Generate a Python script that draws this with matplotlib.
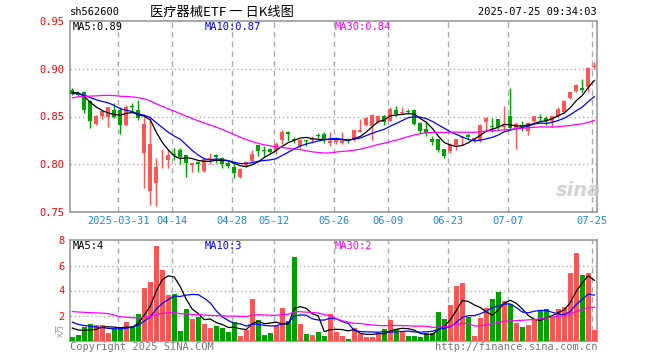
import matplotlib
matplotlib.use("Agg")
import matplotlib.pyplot as plt
import numpy as np
import pandas as pd

# daily bars, 2025-03-19 .. 2025-07-25 (88 sessions)
opens = [0.878, 0.875, 0.876, 0.8667, 0.842, 0.851, 0.8493, 0.8563,
         0.8563, 0.841, 0.861, 0.857, 0.812, 0.7722, 0.7806, 0.805, 0.8042, 0.8105,
         0.8153, 0.8094, 0.7997, 0.8024, 0.7927, 0.8056, 0.810, 0.807, 0.8014, 0.7972,
         0.7868, 0.7972, 0.8035, 0.8198, 0.8146, 0.816, 0.8153, 0.825, 0.8337, 0.8264,
         0.8187, 0.825, 0.825, 0.8303, 0.8313, 0.8222, 0.8236, 0.8222, 0.8257, 0.8257,
         0.8333, 0.8406, 0.8396, 0.8441, 0.851, 0.8458, 0.8563, 0.8538, 0.8556, 0.8563,
         0.8434, 0.8365, 0.8264, 0.826, 0.8156, 0.8135, 0.8198, 0.828, 0.8302, 0.825,
         0.825, 0.8441, 0.8399, 0.8469, 0.8389, 0.851, 0.8378, 0.8413, 0.8344, 0.8448,
         0.8493, 0.8483, 0.8458, 0.851, 0.8552, 0.8691, 0.8767, 0.8795, 0.8805, 0.902]
highs = [0.880, 0.877, 0.877, 0.867, 0.852, 0.857, 0.860, 0.864,
         0.860, 0.862, 0.864, 0.867, 0.851, 0.851, 0.807, 0.816, 0.8153, 0.8174,
         0.817, 0.810, 0.8017, 0.8035, 0.806, 0.8122, 0.811, 0.8076, 0.8035, 0.800,
         0.7965, 0.803, 0.8153, 0.820, 0.8188, 0.8167, 0.8233, 0.8354, 0.8347, 0.8285,
         0.8264, 0.8257, 0.8292, 0.8326, 0.8337, 0.834, 0.827, 0.834, 0.828, 0.836,
         0.8472, 0.850, 0.8528, 0.851, 0.8517, 0.8604, 0.8615, 0.8604, 0.858, 0.858,
         0.8441, 0.8451, 0.8292, 0.8264, 0.8163, 0.8226, 0.8265, 0.8295, 0.8325, 0.828,
         0.8417, 0.8493, 0.8483, 0.8472, 0.8608, 0.8802, 0.8445, 0.8448, 0.8441, 0.8507,
         0.8528, 0.8504, 0.851, 0.8597, 0.8674, 0.876, 0.8837, 0.8892, 0.9015, 0.907]
lows = [0.872, 0.871, 0.8535, 0.838, 0.841, 0.8476, 0.839, 0.848,
        0.832, 0.840, 0.8556, 0.8465, 0.775, 0.7573, 0.7566, 0.796, 0.7965, 0.8049,
        0.800, 0.7868, 0.792, 0.792, 0.792, 0.8007, 0.8017, 0.7965, 0.7965, 0.7858,
        0.7858, 0.797, 0.8024, 0.8083, 0.8076, 0.8104, 0.8104, 0.8208, 0.824, 0.8222,
        0.8174, 0.8195, 0.8222, 0.8278, 0.8222, 0.8188, 0.8208, 0.8215, 0.8222, 0.824,
        0.8333, 0.8396, 0.8257, 0.843, 0.8406, 0.845, 0.851, 0.8528, 0.8528, 0.8413,
        0.8326, 0.8299, 0.8198, 0.8128, 0.8066, 0.8118, 0.8153, 0.8198, 0.825, 0.8235,
        0.8233, 0.8354, 0.8337, 0.8372, 0.8354, 0.8372, 0.8156, 0.8347, 0.8309, 0.8424,
        0.8441, 0.8406, 0.8389, 0.8493, 0.8545, 0.8684, 0.8753, 0.8753, 0.8753, 0.8995]
closes = [0.874, 0.8725, 0.857, 0.845, 0.851, 0.8556, 0.8597, 0.8493,
          0.8413, 0.8604, 0.860, 0.8486, 0.842, 0.8208, 0.7969, 0.806, 0.8097, 0.8095,
          0.8076, 0.8014, 0.8014, 0.800, 0.8052, 0.807, 0.8077, 0.800, 0.7986, 0.791,
          0.7951, 0.802, 0.8111, 0.8135, 0.8135, 0.8132, 0.8208, 0.8337, 0.832, 0.8257,
          0.825, 0.824, 0.8267, 0.8292, 0.825, 0.8247, 0.825, 0.8243, 0.8247, 0.8354,
          0.8361, 0.8486, 0.852, 0.851, 0.8441, 0.858, 0.8528, 0.8552, 0.8552, 0.8417,
          0.8347, 0.833, 0.8233, 0.8146, 0.8083, 0.821, 0.826, 0.8285, 0.8288, 0.827,
          0.8406, 0.8483, 0.8389, 0.8389, 0.8424, 0.8378, 0.8424, 0.8392, 0.8434, 0.8503,
          0.8483, 0.8458, 0.851, 0.858, 0.866, 0.8753, 0.883, 0.8778, 0.9003, 0.9025]
# volume, 万手
volumes = [0.32, 0.48, 1.07, 1.33, 1.25, 1.25, 0.59, 0.93,
           1.07, 1.52, 1.2, 2.13, 4.24, 4.67, 7.6, 5.68, 3.68, 3.76, 0.8, 2.56,
           1.76, 1.87, 1.36, 1.04, 1.15, 0.99, 0.67, 1.47, 0.4, 0.85, 3.36, 1.65,
           0.48, 0.64, 1.2, 2.64, 1.6, 6.72, 1.36, 0.56, 0.48, 0.72, 0.4, 2.16,
           0.72, 0.37, 0.16, 1.04, 0.56, 0.32, 0.32, 0.56, 0.96, 1.68, 0.96, 0.72,
           0.4, 0.4, 0.32, 0.64, 0.64, 2.32, 1.76, 2.88,
           4.4, 4.64, 1.92, 0.4, 1.84, 2.64, 3.36, 3.92, 3.2, 2.96, 1.44, 1.12,
           1.28, 1.68, 2.48, 2.56, 1.92, 2.56, 2.72, 5.44, 7.04, 5.28, 5.44, 0.88]

# sessions before the window, backed out of where the MA lines start
close_before = [0.838, 0.840, 0.842, 0.842, 0.843, 0.855, 0.858, 0.862, 0.868, 0.872,
                0.876, 0.880, 0.884, 0.886, 0.888, 0.886, 0.884, 0.882, 0.880, 0.879,
                0.874, 0.872, 0.871, 0.873, 0.8735, 0.875, 0.876, 0.8755, 0.876]
vol_before = [1.7, 1.9, 2.0, 1.8, 1.87, 1.8, 4.5, 5.0, 2.6, 2.45, 2.5, 2.8, 2.9, 2.7,
              2.77, 2.7, 3.4, 3.2, 3.3, 3.01, 2.3, 2.0, 1.9, 1.8, 1.7, 1.3, 1.2, 1.1, 1.08]

tick_pos = [8, 17, 27, 34, 44, 53, 63, 73, 87]
tick_labels = ["2025-03-31", "04-14", "04-28", "05-12", "05-26",
               "06-09", "06-23", "07-07", "07-25"]
price_ticks = [0.75, 0.80, 0.85, 0.90, 0.95]
vol_ticks = [2, 4, 6, 8]

RED = "#ff5555"
GREEN = "#00a000"
GRID = "#aaaaaa"
MONO = "DejaVu Sans Mono"

n = len(closes)
x = np.arange(n)
o, h, l, c = map(np.array, (opens, highs, lows, closes))
v = np.array(volumes)
up = c >= o
colors = np.where(up, RED, GREEN)

def moving_avg(before, values, w):
    s = pd.Series(list(before) + list(values))
    return s.rolling(w, min_periods=1).mean().to_numpy()[len(before):]

fig = plt.figure(figsize=(6.6, 3.6), dpi=100)
ax = fig.add_axes([70 / 660, 1 - 212 / 360, 527 / 660, 191 / 360])
axv = fig.add_axes([70 / 660, 1 - 340.5 / 360, 527 / 660, 100.5 / 360])

# candles
ax.vlines(x, l, h, colors=colors, linewidth=1, zorder=3)
body = np.maximum(np.abs(c - o), 0.0009)
ax.bar(x, body, bottom=np.minimum(o, c), width=0.7, color=colors, linewidth=0, zorder=4)

for w, col in [(5, "black"), (10, "#0000ff"), (30, "#ff00ff")]:
    ax.plot(x, moving_avg(close_before, closes, w), color=col, linewidth=0.9, zorder=5)
    axv.plot(x, moving_avg(vol_before, volumes, w), color=col, linewidth=0.9, zorder=5)

axv.bar(x, v, width=0.83, color=colors, linewidth=0, zorder=3)

xlim = (-0.38, 87.45)
for a in (ax, axv):
    a.set_xlim(*xlim)
    for t in tick_pos:
        a.axvline(t - 0.33, color=GRID, linewidth=1, linestyle=(0, (4, 3)), zorder=1)
    for s in a.spines.values():
        s.set_color("#999999")
        s.set_linewidth(1.2)

ax.set_ylim(0.75, 0.949)
for p in price_ticks[1:-1]:
    ax.axhline(p, color=GRID, linewidth=1, linestyle=(0, (1, 2)), zorder=1)
ax.set_yticks(price_ticks)
ax.set_yticklabels([f"{p:.2f}" for p in price_ticks])
ax.set_xticks([t - 0.33 for t in tick_pos])
ax.set_xticklabels(tick_labels)
ax.tick_params(axis="y", length=0, pad=4, labelcolor="red", labelsize=7.5)
ax.tick_params(axis="x", length=0, pad=3, labelcolor="#1a86e0", labelsize=7.5)
for t in ax.get_xticklabels() + ax.get_yticklabels():
    t.set_family(MONO)

axv.set_ylim(0, 8.04)
for q in vol_ticks[:-1]:
    axv.axhline(q, color=GRID, linewidth=1, linestyle=(0, (1, 2)), zorder=1)
axv.set_yticks(vol_ticks)
axv.set_yticklabels([str(q) for q in vol_ticks])
axv.set_xticks([])
axv.tick_params(axis="y", length=0, pad=4, labelcolor="red", labelsize=7.5)
for t in axv.get_yticklabels():
    t.set_family(MONO)

# header
fig.text(70 / 660, 1 - 12 / 360, "sh562600", family=MONO, fontsize=7.5, va="center")
fig.text(222 / 660, 1 - 12 / 360, "医疗器械ETF 一 日K线图", family=["Noto Sans CJK SC", "DejaVu Sans"],
         fontsize=9.5, ha="center", va="center")
fig.text(597 / 660, 1 - 12 / 360, "2025-07-25 09:34:03", family=MONO, fontsize=7.5,
         ha="right", va="center")

# MA captions
for a, labels, yy in [(ax, ["MA5:0.89", "MA10:0.87", "MA30:0.84"], 27),
                      (axv, ["MA5:4", "MA10:3", "MA30:2"], 246)]:
    for xx, txt, col in zip([73, 205, 335], labels, ["black", "#0000ff", "#ff00ff"]):
        fig.text(xx / 660, 1 - yy / 360, txt, family=MONO, fontsize=7.5, color=col, va="center")

fig.text(578 / 660, 1 - 190 / 360, "sina", fontsize=14, style="italic", weight="bold",
         color="#c8c8c8", ha="center", va="center", alpha=0.8)
fig.text(66 / 660, 1 - 330 / 360, "x万", family=["Noto Sans CJK SC", "DejaVu Sans"],
         fontsize=6.5, color="#999999", rotation=90, ha="right", va="center")

fig.text(70 / 660, 1 - 347 / 360, "Copyright 2025 SINA.COM", family=MONO, fontsize=7.5,
         color="#777777", va="center")
fig.text(597 / 660, 1 - 347 / 360, "http://finance.sina.com.cn", family=MONO, fontsize=7.5,
         color="#777777", ha="right", va="center")

fig.savefig("out.png", dpi=100)
